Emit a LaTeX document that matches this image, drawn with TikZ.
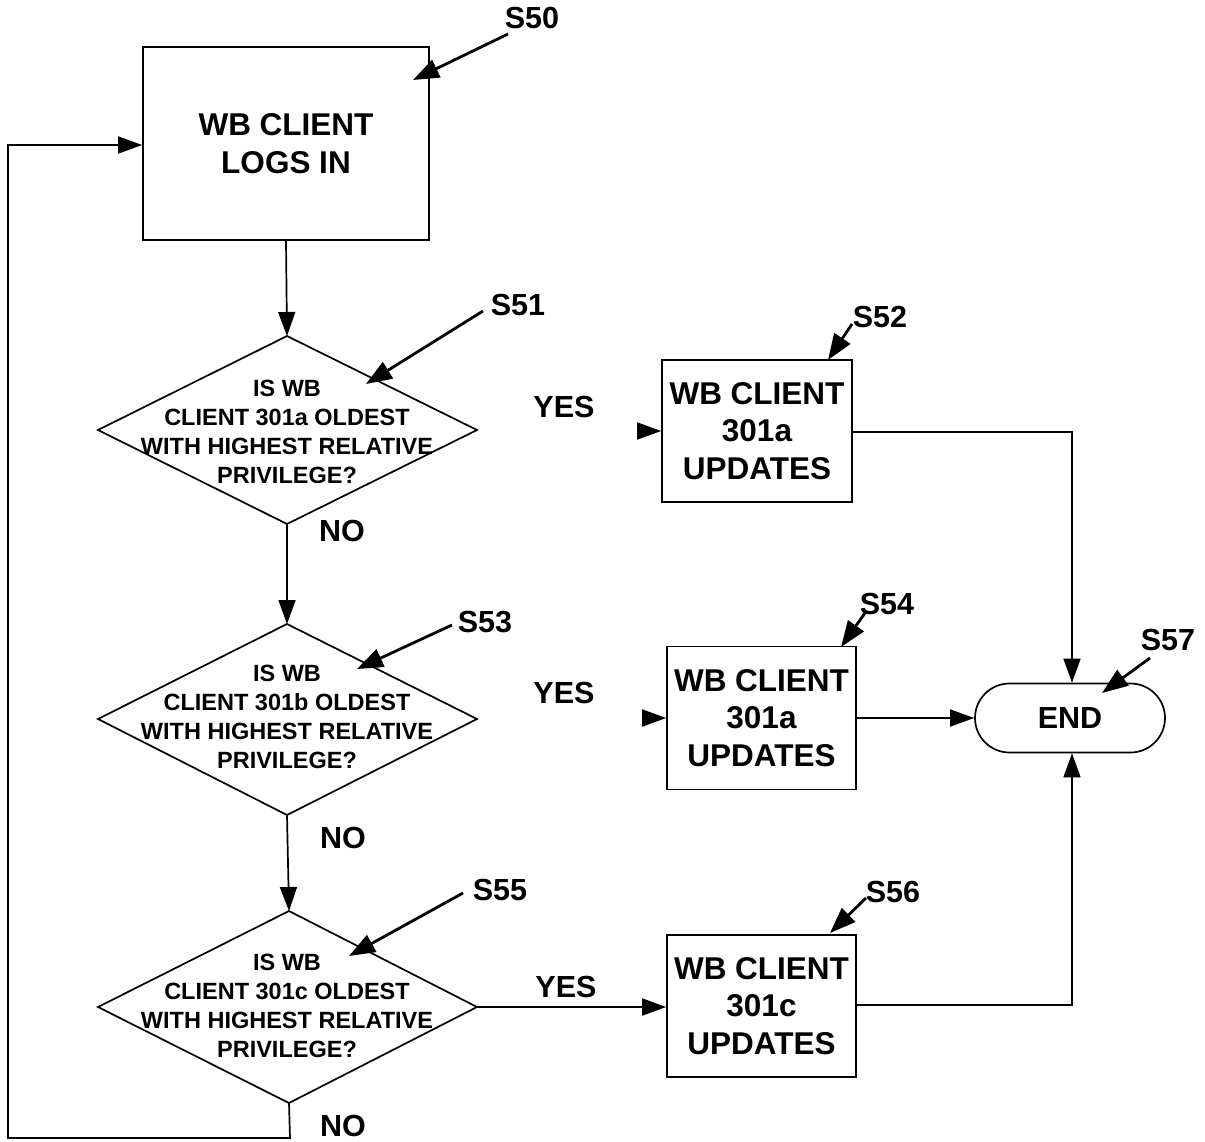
\documentclass[tikz,border=0pt]{standalone}
\usepackage{fontspec}
\setmainfont{Liberation Sans}
\usetikzlibrary{arrows.meta,shapes.misc}
\begin{document}
\begin{tikzpicture}[x=1pt,y=-1pt,
  line/.style={line width=1.7pt},
  flow/.style={line, -{Triangle[length=24pt,width=17pt]}},
  ptr/.style={line width=2.8pt, -{Triangle[length=26pt,width=19pt]}},
  box/.style={draw, line width=1.7pt, inner sep=0pt, align=center,
    font=\fontsize{31.5}{37.5}\selectfont\bfseries},
  qtext/.style={align=center, inner sep=0pt, font=\fontsize{23.5}{29}\selectfont\bfseries},
  lab/.style={inner sep=0pt, font=\fontsize{30.5}{36}\selectfont\bfseries}]
\useasboundingbox (0,0) rectangle (1205,1141);
% start box
\node[box, minimum width=286pt, minimum height=193pt] (s50) at (286,143.5) {WB CLIENT\\LOGS IN};
% diamonds
\coordinate (d1t) at (287,336); \coordinate (d1b) at (287,524);
\coordinate (d1l) at (98,430); \coordinate (d1r) at (477,430);
\draw[line] (d1t) -- (d1r) -- (d1b) -- (d1l) -- cycle;
\node[qtext] (q1) at (287,432) {IS WB\\CLIENT 301a OLDEST\\WITH HIGHEST RELATIVE\\PRIVILEGE?};
\coordinate (d2t) at (287,624); \coordinate (d2b) at (287,815);
\coordinate (d2l) at (98,719); \coordinate (d2r) at (477,719);
\draw[line] (d2t) -- (d2r) -- (d2b) -- (d2l) -- cycle;
\node[qtext] (q2) at (287,717) {IS WB\\CLIENT 301b OLDEST\\WITH HIGHEST RELATIVE\\PRIVILEGE?};
\coordinate (d3t) at (289,911); \coordinate (d3b) at (289,1103);
\coordinate (d3l) at (98,1007); \coordinate (d3r) at (477,1007);
\draw[line] (d3t) -- (d3r) -- (d3b) -- (d3l) -- cycle;
\node[qtext] (q3) at (287,1006) {IS WB\\CLIENT 301c OLDEST\\WITH HIGHEST RELATIVE\\PRIVILEGE?};
% update boxes
\node[box, minimum width=190pt, minimum height=142pt] (s52) at (757,431) {WB CLIENT\\301a\\UPDATES};
\node[box, minimum width=189pt, minimum height=143pt] (s54) at (761.5,718) {WB CLIENT\\301a\\UPDATES};
\node[box, minimum width=189pt, minimum height=142pt] (s56) at (761.5,1006) {WB CLIENT\\301c\\UPDATES};
% end
\node[draw, line width=1.7pt, rounded rectangle, minimum width=190pt, minimum height=69pt, inner sep=0pt,
  font=\fontsize{30.5}{36}\selectfont\bfseries] (s57) at (1070,718) {END};
% flow connectors
\draw[flow] (s50.south) -- (d1t);
\draw[flow] (d1b) -- (d2t);
\draw[flow] (d2b) -- (d3t);
\draw[flow] (d3r) -- (s56.west |- d3r);
\draw[flow] ([xshift=-24pt]s52.west) -- (s52.west);
\draw[flow] ([xshift=-24pt]s54.west) -- (s54.west);
\coordinate (c52) at (1072,432);
\coordinate (c56) at (1072,1005);
\draw[flow] (s52.east |- c52) -- (c52) -- (s57.north -| c52);
\draw[flow] (s54.east) -- (s57.west);
\draw[flow] (s56.east |- c56) -- (c56) -- (s57.south -| c56);
\coordinate (lb) at (290,1138); \coordinate (ll) at (8,1138); \coordinate (lt) at (8,145);
\draw[flow] (d3b) -- (lb) -- (ll) -- (lt) -- (s50.west |- lt);
% YES / NO labels
\node[lab] (y1) at (564,407) {YES};
\node[lab] (y2) at (564,693) {YES};
\node[lab] (y3) at (566,987) {YES};
\node[lab] (n1) at (342,531) {NO};
\node[lab] (n2) at (343,838) {NO};
\node[lab] (n3) at (343,1126) {NO};
% step labels with pointers
\node[lab] (l50) at (532,18) {S50};
\coordinate (p50) at (508,34); \coordinate (t50) at (413,80);
\draw[ptr] (p50) -- (t50);
\node[lab] (l51) at (518,305) {S51};
\coordinate (p51) at (483,311); \coordinate (t51) at (366,384);
\draw[ptr] (p51) -- (t51);
\node[lab] (l52) at (880,317) {S52};
\coordinate (p52) at (852,324); \coordinate (t52) at (828,360);
\draw[ptr] (p52) -- (t52);
\node[lab] (l53) at (485,622) {S53};
\coordinate (p53) at (452,625); \coordinate (t53) at (357,669);
\draw[ptr] (p53) -- (t53);
\node[lab] (l54) at (887,604) {S54};
\coordinate (p54) at (865,613); \coordinate (t54) at (841,647);
\draw[ptr] (p54) -- (t54);
\node[lab] (l55) at (500,890) {S55};
\coordinate (p55) at (463,893); \coordinate (t55) at (349,956);
\draw[ptr] (p55) -- (t55);
\node[lab] (l56) at (893,892) {S56};
\coordinate (p56) at (866,898); \coordinate (t56) at (830,933);
\draw[ptr] (p56) -- (t56);
\node[lab] (l57) at (1168,640) {S57};
\coordinate (p57) at (1150,658); \coordinate (t57) at (1102,693);
\draw[ptr] (p57) -- (t57);
\end{tikzpicture}
\end{document}
